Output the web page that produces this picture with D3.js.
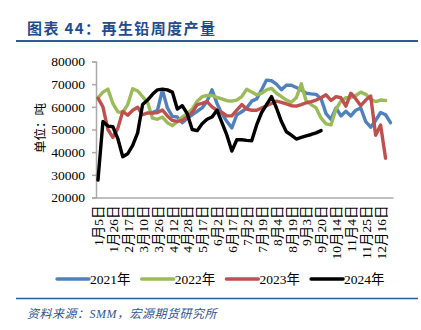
<!DOCTYPE html>
<html><head><meta charset="utf-8">
<script src="https://cdn.jsdelivr.net/npm/d3@7"></script>
<style>body{margin:0;background:#fff;} svg{display:block}</style>
</head><body><svg id="c" width="421" height="330"></svg>
<script>
// ---- data ----
const tickLabels = ["1月5日","1月26日","2月17日","3月10日","3月26日","4月12日","4月28日","5月17日","6月2日","6月17日","7月2日","7月19日","8月4日","8月19日","9月3日","9月20日","10月14日","11月4日","11月25日","12月16日"];
const yTicks = [20000,30000,40000,50000,60000,70000,80000];
const seriesNames = ["2021年","2022年","2023年","2024年"];
const seriesColors = ["#4f81bd","#9bbb59","#c0504d","#000000"];
const nWeeks = 60;
const s2021 = [null,null,null,null,null,null,null,null,null,null,null,
  57500,58500,67500,59500,55800,55500,53000,55000,56500,58000,59500,62500,67500,61500,57000,53500,50700,56500,57800,
  59500,62500,63500,67500,71800,71500,70000,67600,69500,69500,68500,67500,66000,65700,65500,63500,57000,54500,59500,56000,
  58000,56000,58500,59500,53500,51000,54000,57500,56500,53000];
const s2022 = [64000,66500,67800,61500,57800,57500,61000,68000,67000,64500,62000,55000,54500,55500,53000,51700,53500,55500,57000,59000,
  62500,64500,65000,65000,64200,63500,62700,62500,63000,64500,67800,66500,65300,66000,67500,68200,66000,64500,63000,62000,
  64000,70200,62500,61000,59500,55000,52500,52000,59000,62500,64000,64000,65000,66500,65500,63500,62300,63000,62800];
const s2023 = [63800,60000,50000,46500,50500,58000,56300,58500,59800,56500,57300,57300,57500,58600,56000,54000,53600,54000,55500,57500,
  61000,61500,62300,60000,58500,57500,56000,56000,58500,61000,59000,58500,58500,59500,60500,61500,62500,62000,61300,60500,
  60300,61000,61800,62300,63000,64000,65300,62800,64500,64000,60300,66000,63500,60500,63000,64800,47500,52000,37300];
const s2024 = [27700,53500,51500,51200,46000,38000,39300,43000,48500,61000,63000,65500,67500,67800,67500,66500,59000,60500,57000,50000,
  49500,52500,54500,55500,58500,53000,47500,40500,45500,45500,45200,45000,52000,57500,61000,64500,59500,53500,49000,47500,
  45800,46500,47200,47800,48500,49500];
const allSeries = [s2021, s2022, s2023, s2024];

// ---- drawing ----
const svg = d3.select("#c");
svg.append("rect").attr("width",421).attr("height",330).attr("fill","#fff");

// title
svg.append("text").attr("x",27).attr("y",34)
  .attr("font-family","'Noto Sans CJK SC', sans-serif").attr("font-weight","bold")
  .attr("font-size","15px").attr("letter-spacing","1.4px").attr("fill","#1e4d8f")
  .text("图表 44：再生铅周度产量");
svg.append("line").attr("x1",16).attr("x2",418).attr("y1",41).attr("y2",41)
  .attr("stroke","#2d5a9b").attr("stroke-width",2);

const x = d3.scalePoint().domain(d3.range(nWeeks)).range([95.5, 393]).padding(0.5);
const y = d3.scaleLinear().domain([20000, 80000]).range([197.5, 61.5]);

// y axis
const gy = svg.append("g").attr("transform","translate(96,0)")
  .call(d3.axisLeft(y).tickValues(yTicks).tickSize(4).tickPadding(7).tickFormat(d3.format("d")));
gy.select(".domain").attr("stroke","#aaaaaa").attr("stroke-width",1.5);
gy.selectAll(".tick line").attr("stroke","#aaaaaa").attr("stroke-width",1.5);
gy.selectAll(".tick text").attr("font-family","'Liberation Serif', serif").attr("font-size","13.5px").attr("fill","#000");

// x axis
const gx = svg.append("g").attr("transform","translate(0,197.5)")
  .call(d3.axisBottom(x).tickValues(d3.range(0, nWeeks, 3)).tickSize(0)
    .tickFormat((d,i)=>tickLabels[i]));
gx.select(".domain").attr("stroke","#aaaaaa").attr("stroke-width",1.5);
gx.selectAll(".tick text")
  .attr("font-family","'Liberation Serif', 'Noto Sans CJK SC', serif").attr("font-size","13.5px").attr("fill","#000")
  .attr("y",0).attr("x",-8).attr("dy","0.35em").attr("transform","rotate(-90)")
  .style("text-anchor","end");

// y title
svg.append("text").attr("transform","translate(41,128) rotate(-90)")
  .attr("text-anchor","middle").attr("dy","0.35em")
  .attr("font-family","'Noto Sans CJK SC', sans-serif").attr("font-size","12.5px").attr("fill","#000")
  .text("单位：吨");

// lines
const line = d3.line().defined(d => d != null).x((d,i)=>x(i)).y(d=>y(d));
allSeries.forEach((s,k)=>{
  svg.append("path").datum(s).attr("d", line)
    .attr("fill","none").attr("stroke", seriesColors[k]).attr("stroke-width",3.4)
    .attr("stroke-linejoin","round").attr("stroke-linecap","round");
});

// legend
seriesNames.forEach((n,k)=>{
  const lx = 57 + k*84.7;
  svg.append("line").attr("x1",lx).attr("x2",lx+32).attr("y1",279).attr("y2",279)
    .attr("stroke",seriesColors[k]).attr("stroke-width",3.4).attr("stroke-linecap","round");
  svg.append("text").attr("x",lx+33).attr("y",279).attr("dy","0.35em")
    .attr("font-family","'Liberation Serif', 'Noto Sans CJK SC', serif").attr("font-size","13.5px").attr("fill","#000")
    .text(n);
});

// bottom rule & source
svg.append("line").attr("x1",16).attr("x2",418).attr("y1",298.5).attr("y2",298.5)
  .attr("stroke","#2d5a9b").attr("stroke-width",1.5);
svg.append("text").attr("x",27).attr("y",318)
  .attr("font-family","'Liberation Serif', 'Noto Sans CJK SC', serif").attr("font-style","italic")
  .attr("font-size","12px").attr("letter-spacing","0.5px").attr("fill","#2f5597")
  .text("资料来源：SMM，宏源期货研究所");
</script></body></html>
